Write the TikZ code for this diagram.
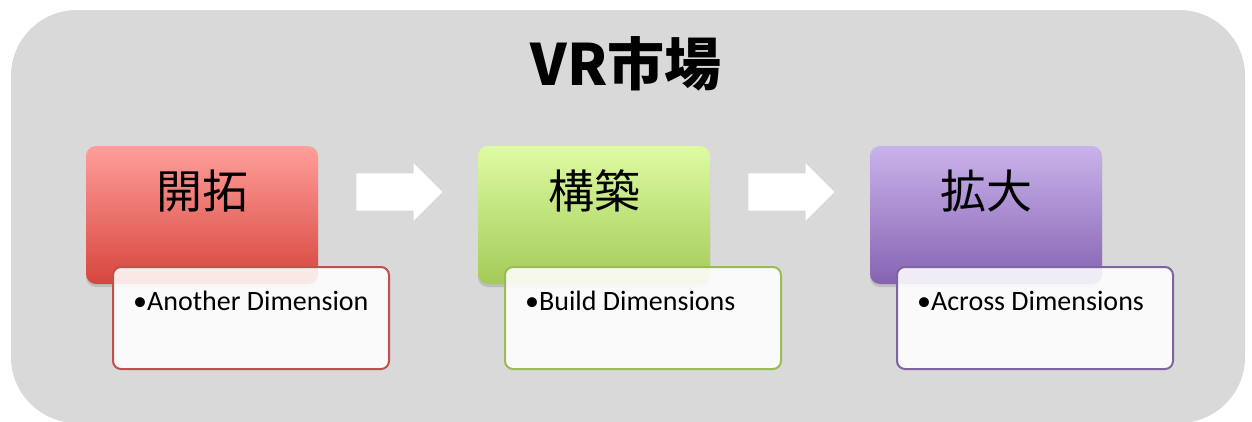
\documentclass[tikz,border=0pt]{standalone}
\usepackage{fontspec}
\setmainfont{Carlito}
\newfontfamily\cjk{Noto Sans CJK JP}
\usetikzlibrary{shapes.arrows,shadows}
\definecolor{bggray}{HTML}{D9D9D9}
\definecolor{topred}{RGB}{255,158,154}
\definecolor{midred}{RGB}{246,140,134}
\definecolor{botred}{RGB}{214,70,61}
\definecolor{edgered}{RGB}{192,80,77}
\definecolor{topgreen}{RGB}{222,251,162}
\definecolor{midgreen}{RGB}{208,240,140}
\definecolor{botgreen}{RGB}{163,203,88}
\definecolor{edgegreen}{RGB}{155,187,89}
\definecolor{toppurple}{RGB}{201,179,235}
\definecolor{midpurple}{RGB}{188,164,224}
\definecolor{botpurple}{RGB}{134,99,178}
\definecolor{edgepurple}{RGB}{128,100,162}

\begin{document}
\begin{tikzpicture}[x=1pt,y=-1pt,
	phase/.style={rounded corners=10pt,minimum width=232pt,minimum height=138pt,inner sep=0pt,
		drop shadow={shadow xshift=0pt,shadow yshift=-3pt,opacity=.3}},
	detail/.style={draw=#1,line width=2pt,fill=white,fill opacity=.88,rounded corners=8pt,
		minimum width=276pt,minimum height=102pt,inner sep=0pt},
	flow/.style={single arrow,fill=white,minimum height=86pt,inner xsep=0pt,inner ysep=18.5pt,
		single arrow head extend=10pt}]
	\useasboundingbox (0,0) rectangle (1252,421);
	\fill[white] (0,0) rectangle (1252,421);
	\fill[bggray,rounded corners=66pt] (11,10) rectangle (1245,423);

	\node[font=\cjk\bfseries\fontsize{57}{70}\selectfont] (title) at (626,64) {VR市場};

	\foreach \i/\cx/\hue/\word/\item in {1/202/red/開拓/Another Dimension,2/594/green/構築/Build Dimensions,3/986/purple/拡大/Across Dimensions}{
		\node[phase,top color=top\hue,middle color=mid\hue,bottom color=bot\hue] (phase\i) at (\cx,215) {};
		\node[font=\cjk\fontsize{46}{55}\selectfont] (word\i) at (\cx,191) {\word};
		\node[detail=edge\hue] (box\i) at (\cx+49,318) {};
		\node[anchor=base west,font=\fontsize{28}{33}\selectfont,inner xsep=0pt] (item\i) at (\cx-69,310) {•\item};
	}

	\node[flow] (step1) at (390,192) {};
	\node[flow] (step2) at (782,192) {};
\end{tikzpicture}
\end{document}
